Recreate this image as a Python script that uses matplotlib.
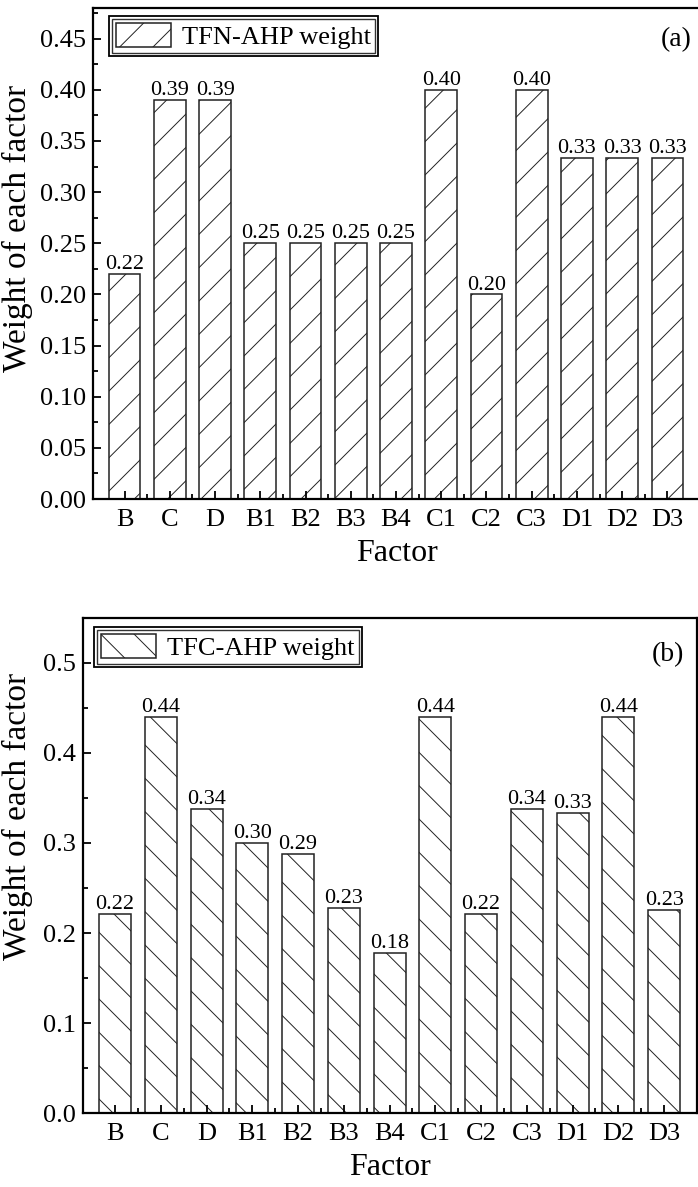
import matplotlib.pyplot as plt
import matplotlib as mpl
from matplotlib.patches import Rectangle

factors = ["B", "C", "D", "B1", "B2", "B3", "B4", "C1", "C2", "C3", "D1", "D2", "D3"]
tfn_weight = [0.22, 0.39, 0.39, 0.25, 0.25, 0.25, 0.25, 0.40, 0.20, 0.40, 0.333, 0.333, 0.333]
tfc_weight = [0.221, 0.44, 0.338, 0.30, 0.288, 0.228, 0.178, 0.44, 0.221, 0.338, 0.333, 0.44, 0.226]

plt.rcParams["font.family"] = "Liberation Serif"
plt.rcParams["hatch.linewidth"] = 0.7
plt.rcParams["hatch.color"] = "#7a7a7a"

fig = plt.figure(figsize=(6.98, 11.87), dpi=100)
ax1 = fig.add_axes([0.1332, 0.5796, 0.8696, 0.4137])
ax2 = fig.add_axes([0.1189, 0.0623, 0.8797, 0.4171])


def draw(ax, values, hatch, label, tag, ymax, step, fmt, leg_xy, tag_xy, ylab_xy):
    x = list(range(len(factors)))
    ax.bar(x, values, width=0.7, color="white", edgecolor="#222222",
           linewidth=1.1, hatch=hatch, label=label)
    for xi, v in zip(x, values):
        ax.annotate(f"{v:.2f}", (xi, v), xytext=(0, 3.5), textcoords="offset points",
                    ha="center", va="baseline", fontsize=16)
    ax.set_xlim(-0.7, 12.72)
    ax.set_ylim(0, ymax)
    ax.set_xticks(x)
    ax.set_xticklabels(factors)
    ax.set_xticks([i + 0.5 for i in x[:-1]], minor=True)
    ax.yaxis.set_major_locator(mpl.ticker.MultipleLocator(step))
    ax.yaxis.set_major_formatter(mpl.ticker.FormatStrFormatter(fmt))
    ax.yaxis.set_minor_locator(mpl.ticker.MultipleLocator(step / 2))
    ax.tick_params(which="both", direction="in", top=False, right=False,
                   labelsize=19, width=1.3)
    ax.tick_params(which="major", length=6)
    ax.tick_params(which="minor", length=3.5)
    ax.tick_params(axis="x", which="major", pad=7)
    ax.tick_params(axis="y", which="major", pad=5)
    for s in ax.spines.values():
        s.set_linewidth(1.6)
    ax.set_xlabel("Factor", fontsize=23, labelpad=6)
    ax.set_ylabel("Weight of each factor", fontsize=24)
    ax.yaxis.set_label_coords(*ylab_xy)
    leg = ax.legend(loc="upper left", bbox_to_anchor=leg_xy, borderaxespad=0,
                    fontsize=19, frameon=True, fancybox=False, edgecolor="black",
                    handlelength=2.1, handleheight=1.05, borderpad=0.15,
                    handletextpad=0.4)
    leg.get_frame().set_linewidth(1.0)
    ax.text(tag_xy[0], tag_xy[1], tag, transform=ax.transAxes, ha="right",
            va="center", fontsize=20)
    return leg


leg1 = draw(ax1, tfn_weight, "/", "TFN-AHP weight", "(a)", 0.48, 0.05, "%.2f",
            (0.031, 0.978), (0.987, 0.935), (-0.099, 0.55))
leg2 = draw(ax2, tfc_weight, "\\", "TFC-AHP weight", "(b)", 0.55, 0.1, "%.1f",
            (0.023, 0.976), (0.979, 0.925), (-0.081, 0.60))

# second line round the legend box, as in the original
fig.canvas.draw()
for ax, leg in [(ax1, leg1), (ax2, leg2)]:
    bb = leg.get_frame().get_window_extent()
    inv = ax.transAxes.inverted()
    (x0, y0), (x1, y1) = inv.transform([(bb.x0 - 3, bb.y0 - 3), (bb.x1 + 3, bb.y1 + 3)])
    ax.add_patch(Rectangle((x0, y0), x1 - x0, y1 - y0, transform=ax.transAxes,
                           fill=False, edgecolor="black", linewidth=1.3,
                           clip_on=False, zorder=6))

fig.savefig("out.png", dpi=100)
